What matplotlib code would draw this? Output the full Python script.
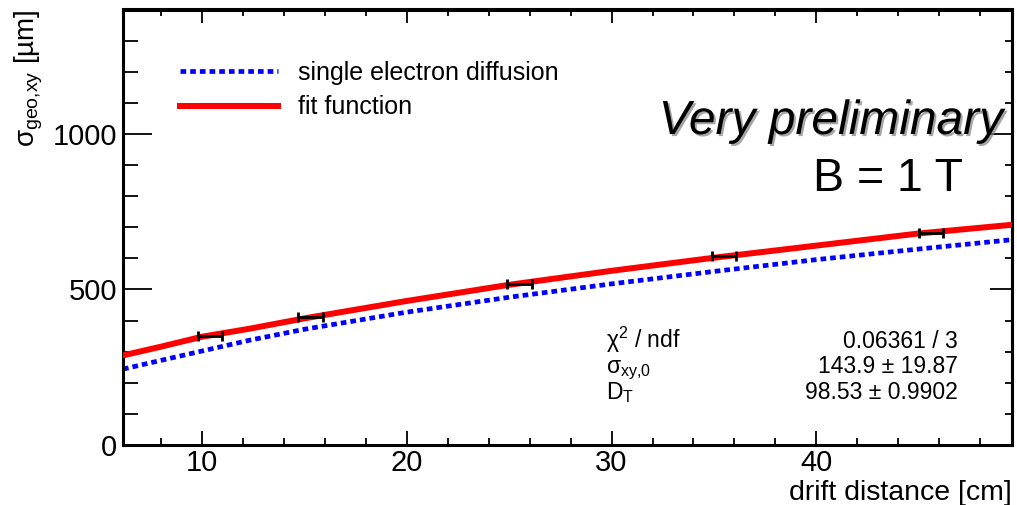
import matplotlib
matplotlib.use("Agg")
import matplotlib.pyplot as plt
import matplotlib.patheffects as pe

plt.rcParams['font.family'] = ['Liberation Sans', 'DejaVu Sans']
plt.rcParams['mathtext.fontset'] = 'custom'
plt.rcParams['mathtext.rm'] = 'Liberation Sans'
plt.rcParams['mathtext.it'] = 'Liberation Sans:italic'
plt.rcParams['mathtext.default'] = 'regular'

# ---- data ----
meas_x = [10.4, 15.3, 25.5, 35.5, 45.6]
meas_y = [350, 413, 516, 606, 680]
meas_xerr = [0.6, 0.6, 0.6, 0.6, 0.6]

curve_x = [6.15, 8, 10, 12.34, 15, 20, 25, 30, 35, 40, 45, 49.55]
fit_y = [288, 316, 348, 374, 407, 463, 515, 560, 602, 641, 680, 708]
diff_y = [244, 272, 302, 337, 372, 427, 475, 518, 558, 596, 630, 660]

xlim = (6.15, 49.55)
ylim = (0, 1400)
x_major = [10, 20, 30, 40]
y_major = [0, 500, 1000]

legend_labels = ["single electron diffusion", "fit function"]
stats_labels = ["χ$^{2}$ / ndf", "σ$_{xy{,}0}$", "D$_{T}$"]
stats_values = ["0.06361 / 3", "143.9 ± 19.87", "98.53 ± 0.9902"]

W, H = 1017, 505
fig = plt.figure(figsize=(W / 100, H / 100), dpi=100)
L, R, B, T = 123, 1012, 445, 9.5
ax = fig.add_axes([L / W, 1 - B / H, (R - L) / W, (B - T) / H])

def fx(px):
    return (px - L) / (R - L)

def fy(py):
    return (B - py) / (B - T)

ln_d, = ax.plot(curve_x, diff_y, color='#0000ff', lw=3.4, ls=(0, (1.2, 0.85)),
                dash_capstyle='butt', zorder=2)
ln_f, = ax.plot(curve_x, fit_y, color='#ff0000', lw=4.3, zorder=3)
ax.errorbar(meas_x, meas_y, xerr=meas_xerr, fmt='none', ecolor='black',
            elinewidth=2.0, capsize=3.5, capthick=2.0, zorder=4)

ax.set_xlim(*xlim)
ax.set_ylim(*ylim)
ax.set_xticks(x_major)
ax.set_yticks(y_major)
ax.set_xticks([x for x in range(8, 50, 2) if x not in x_major], minor=True)
ax.set_yticks([y for y in range(100, 1400, 100) if y not in y_major], minor=True)

for s in ax.spines.values():
    s.set_linewidth(2.2)

ax.tick_params(axis='both', which='both', direction='in', labelsize=21,
               width=1.3, colors='black')
ax.tick_params(axis='y', which='major', length=21, pad=4)
ax.tick_params(axis='y', which='minor', length=10.5)
ax.tick_params(axis='x', which='major', length=10, pad=3)
ax.tick_params(axis='x', which='minor', length=5)

# right / top ticks
secy = ax.secondary_yaxis('right')
secy.set_yticks(y_major)
secy.set_yticks([y for y in range(100, 1400, 100) if y not in y_major], minor=True)
secy.tick_params(axis='y', which='both', direction='in', labelright=False, width=1.3)
secy.tick_params(axis='y', which='major', length=16)
secy.tick_params(axis='y', which='minor', length=5)
secy.spines['right'].set_linewidth(2.2)
secx = ax.secondary_xaxis('top')
secx.set_xticks(x_major)
secx.set_xticks([x for x in range(8, 50, 2) if x not in x_major], minor=True)
secx.tick_params(axis='x', which='both', direction='in', labeltop=False, width=1.3)
secx.tick_params(axis='x', which='major', length=10)
secx.tick_params(axis='x', which='minor', length=5)
secx.spines['top'].set_linewidth(2.2)

ax.set_xlabel("drift distance [cm]", fontsize=20.5, loc='right', labelpad=2)
ax.set_ylabel("σ$_{geo{,}xy}$ [µm]", fontsize=20, loc='top', labelpad=6)

leg = ax.legend([ln_d, ln_f], legend_labels, loc='upper left',
                bbox_to_anchor=(fx(180), fy(61)), frameon=False, fontsize=18,
                handlelength=3.9, handletextpad=0.8, labelspacing=0.42,
                borderpad=0, borderaxespad=0)

ax.text(fx(1003), fy(134), "Very preliminary", transform=ax.transAxes,
        ha='right', va='baseline', fontsize=34.5, style='italic',
        path_effects=[pe.SimplePatchShadow(offset=(1.5, -1.5), shadow_rgbFace='0.5', alpha=0.7),
                      pe.Normal()])
ax.text(fx(963), fy(191), "B = 1 T", transform=ax.transAxes,
        ha='right', va='baseline', fontsize=33.5)

row_base = [347.5, 373, 399]
for lab, val, yb in zip(stats_labels, stats_values, row_base):
    ax.text(fx(606), fy(yb), lab, transform=ax.transAxes, ha='left',
            va='baseline', fontsize=16.5)
    ax.text(fx(958), fy(yb), val, transform=ax.transAxes, ha='right',
            va='baseline', fontsize=16.5)

fig.savefig("out.png", dpi=100)
